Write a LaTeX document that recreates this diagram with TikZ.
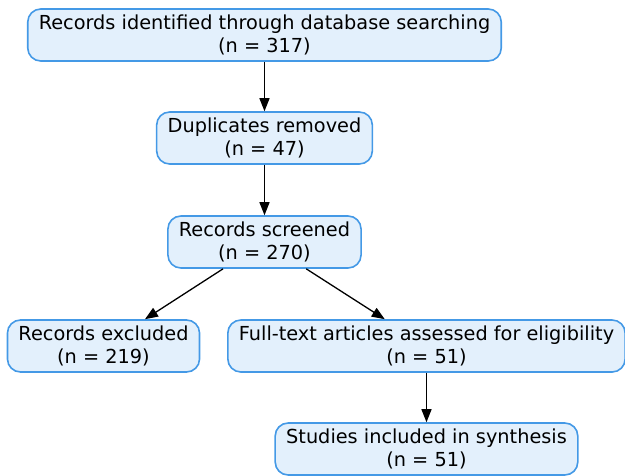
\documentclass[tikz,border=0pt]{standalone}
\usepackage{fontspec}
\setmainfont{DejaVu Sans}
\usetikzlibrary{arrows.meta}
\definecolor{boxfill}{HTML}{E3F0FC}
\definecolor{boxline}{HTML}{4499E6}

\begin{document}
\begin{tikzpicture}[
x=1pt, y=-1pt,
nd/.style = {draw=boxline, fill=boxfill, line width=1.6pt, rounded corners=13pt,
  align=center, minimum height=52pt, inner xsep=11pt, inner ysep=0pt,
  font=\fontsize{19.3}{23}\selectfont},
edge/.style = {line width=1.3pt, -{Triangle[length=13pt,width=10pt]}}
]
  \useasboundingbox (0,0) rectangle (625,475);
  \node[nd] (ident) at (264.5,35) {Records identified through database searching\\(n = 317)};
  \node[nd] (dup) at (264.5,138) {Duplicates removed\\(n = 47)};
  \node[nd] (scr) at (264.5,242) {Records screened\\(n = 270)};
  \node[nd] (exc) at (103.5,346) {Records excluded\\(n = 219)};
  \node[nd] (full) at (426.5,346) {Full-text articles assessed for eligibility\\(n = 51)};
  \node[nd] (incl) at (426.5,449) {Studies included in synthesis\\(n = 51)};

  \draw[edge] (ident) -- (dup);
  \draw[edge] (dup) -- (scr);
  \draw[edge] (scr) -- (exc);
  \draw[edge] (scr) -- (full);
  \draw[edge] (full) -- (incl);
\end{tikzpicture}
\end{document}
